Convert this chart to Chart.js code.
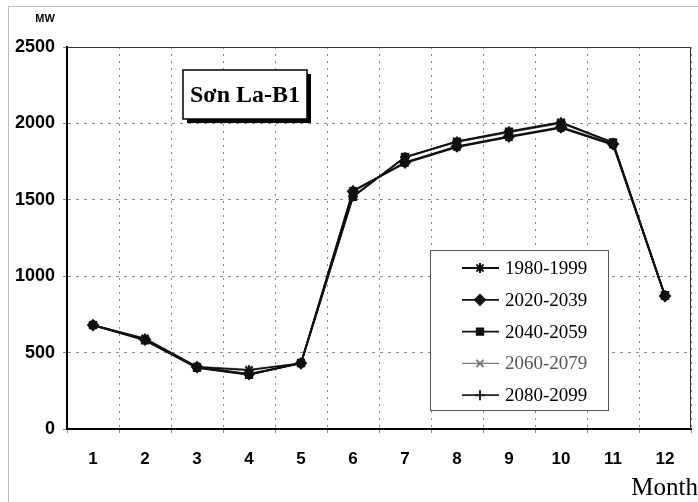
<!DOCTYPE html>
<html>
<head>
<meta charset="utf-8">
<script src="https://cdn.jsdelivr.net/npm/chart.js@4.4.0/dist/chart.umd.min.js"></script>
<style>
  html, body { margin: 0; padding: 0; background: #fff; }
  #wrap { width: 698px; height: 502px; }
</style>
</head>
<body>
<div id="wrap"><canvas id="c" width="698" height="502"></canvas></div>
<script>
// ---- data ----
const months = ['1','2','3','4','5','6','7','8','9','10','11','12'];
const seriesNames = ['1980-1999','2020-2039','2040-2059','2060-2079','2080-2099'];
const s1980 = [680, 590, 405, 385, 430, 1560, 1740, 1845, 1910, 1970, 1860, 870];
const s2020 = [680, 585, 405, 360, 430, 1555, 1745, 1850, 1915, 1975, 1865, 870];
const s2040 = [680, 580, 400, 355, 432, 1520, 1780, 1880, 1945, 2005, 1875, 875];
const s2060 = [682, 595, 410, 390, 432, 1525, 1775, 1878, 1940, 2000, 1870, 872];
const s2080 = [678, 588, 402, 358, 430, 1522, 1778, 1882, 1948, 2008, 1872, 868];
const yTicks = [0, 500, 1000, 1500, 2000, 2500];
const chartTitle = 'Sơn La-B1';
const yUnit = 'MW';
const xTitle = 'Month';

const seriesValues = [s1980, s2020, s2040, s2060, s2080];
const styles = [
  { pointStyle: 'star',     radius: 5,   color: '#111' },
  { pointStyle: 'rectRot',  radius: 5,   color: '#111' },
  { pointStyle: 'rect',     radius: 4.5, color: '#111' },
  { pointStyle: 'crossRot', radius: 5,   color: '#777' },
  { pointStyle: 'cross',    radius: 5,   color: '#222' }
];

const datasets = seriesNames.map((name, i) => ({
  label: name,
  data: seriesValues[i],
  borderColor: styles[i].color,
  backgroundColor: styles[i].color,
  borderWidth: i === 3 ? 1.2 : 1.8,
  pointStyle: styles[i].pointStyle,
  pointRadius: styles[i].radius,
  pointBorderWidth: 2,
  pointBorderColor: styles[i].color,
  pointBackgroundColor: styles[i].color,
  tension: 0,
  fill: false
}));

const decor = {
  id: 'decor',
  beforeDraw(chart) {
    const ctx = chart.ctx;
    ctx.save();
    ctx.fillStyle = '#fff';
    ctx.fillRect(0, 0, chart.width, chart.height);
    ctx.strokeStyle = '#bbb';
    ctx.lineWidth = 1;
    ctx.strokeRect(8.5, 6.5, 700, 500);
    ctx.restore();
  },
  afterDatasetsDraw(chart) {
    const ctx = chart.ctx;
    const a = chart.chartArea;
    ctx.save();
    ctx.strokeStyle = '#333';
    ctx.lineWidth = 1;
    ctx.beginPath();
    ctx.moveTo(a.left, a.top + 0.5);
    ctx.lineTo(a.right - 0.5, a.top + 0.5);
    ctx.lineTo(a.right - 0.5, a.bottom);
    ctx.stroke();

    ctx.fillStyle = '#000';
    ctx.font = 'bold 11px "Liberation Sans", Arial, sans-serif';
    ctx.textAlign = 'center';
    ctx.textBaseline = 'middle';
    ctx.fillText(yUnit, 45, 19);

    ctx.font = '25px "Liberation Serif", "Times New Roman", serif';
    ctx.textAlign = 'right';
    ctx.fillText(xTitle, 698, 488);

    const bx = 183, by = 70, bw = 124, bh = 49;
    ctx.fillStyle = '#000';
    ctx.fillRect(bx + 4, by + 4, bw, bh);
    ctx.fillStyle = '#fff';
    ctx.fillRect(bx, by, bw, bh);
    ctx.strokeStyle = '#000';
    ctx.lineWidth = 1.5;
    ctx.strokeRect(bx, by, bw, bh);
    ctx.fillStyle = '#000';
    ctx.font = 'bold 24px "Liberation Serif", "Times New Roman", serif';
    ctx.textAlign = 'center';
    ctx.textBaseline = 'middle';
    ctx.fillText(chartTitle, bx + bw / 2, by + bh / 2 + 1);

    const lx = 430, ly = 250, lw = 178, lh = 160;
    ctx.fillStyle = '#fff';
    ctx.fillRect(lx, ly, lw, lh);
    ctx.strokeStyle = '#555';
    ctx.lineWidth = 1;
    ctx.strokeRect(lx + 0.5, ly + 0.5, lw, lh);
    chart.data.datasets.forEach((ds, i) => {
      const y = 268 + i * 31.8;
      ctx.strokeStyle = ds.borderColor;
      ctx.lineWidth = ds.borderWidth;
      ctx.beginPath();
      ctx.moveTo(462, y);
      ctx.lineTo(499, y);
      ctx.stroke();
      ctx.fillStyle = ds.pointBackgroundColor;
      ctx.strokeStyle = ds.pointBorderColor;
      ctx.lineWidth = 2;
      Chart.helpers.drawPoint(ctx, {
        pointStyle: ds.pointStyle, radius: ds.pointRadius, rotation: 0, borderWidth: 2
      }, 480, y);
      ctx.fillStyle = i === 3 ? '#555' : '#000';
      ctx.font = '19px "Liberation Serif", "Times New Roman", serif';
      ctx.textAlign = 'left';
      ctx.textBaseline = 'middle';
      ctx.fillText(ds.label, 505, y + 1);
    });
    ctx.restore();
  }
};

new Chart(document.getElementById('c'), {
  type: 'line',
  data: { labels: months, datasets },
  plugins: [decor],
  options: {
    responsive: false,
    animation: false,
    layout: { padding: { top: 47, right: 6, left: 0, bottom: 0 } },
    plugins: { legend: { display: false }, tooltip: { enabled: false }, title: { display: false } },
    scales: {
      x: {
        type: 'category',
        offset: true,
        grid: { offset: true, color: '#888', lineWidth: 1, tickLength: 4, drawTicks: true },
        border: { color: '#000', width: 2, dash: [2, 5] },
        ticks: {
          color: '#000', padding: 16,
          font: { family: '"Liberation Sans", Arial, sans-serif', size: 17, weight: 'bold' }
        },
        afterFit(scale) { scale.height = 502 - 429; }
      },
      y: {
        min: 0, max: 2500,
        afterBuildTicks(scale) { scale.ticks = yTicks.map(v => ({ value: v })); },
        grid: { color: '#888', lineWidth: 1, tickLength: 4 },
        border: { color: '#000', width: 2, dash: [3, 5] },
        ticks: {
          color: '#000', padding: 8,
          callback: (v) => String(v),
          font: { family: '"Liberation Sans", Arial, sans-serif', size: 18, weight: 'bold' }
        },
        afterFit(scale) { scale.width = 67; }
      }
    }
  }
});
</script>
</body>
</html>
